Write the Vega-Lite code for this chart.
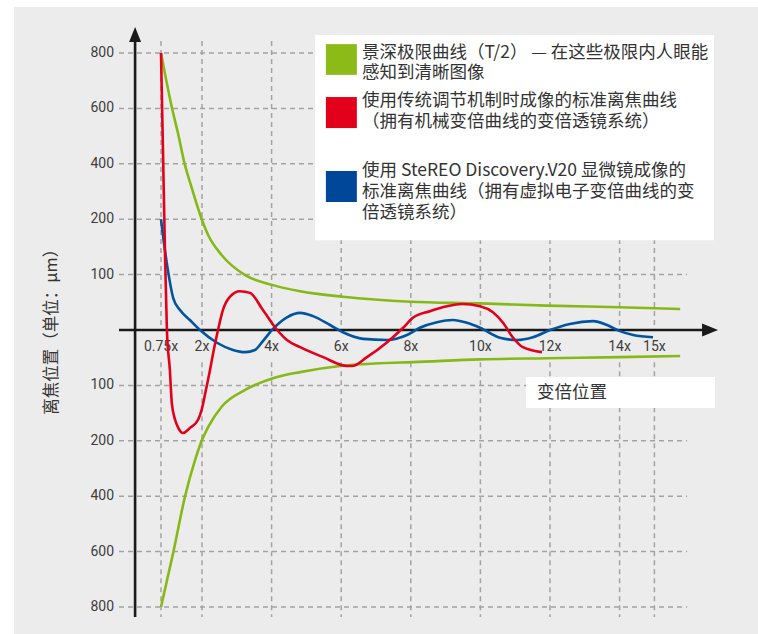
{
  "$schema": "https://vega.github.io/schema/vega-lite/v6.json",
  "width": 744,
  "height": 627,
  "autosize": {"type": "none"},
  "padding": {"left": 14, "top": 7, "right": 0, "bottom": 0},
  "background": "#ffffff",
  "config": {"view": {"fill": "#ececec", "stroke": null}, "axis": {"disable": true}},
  "datasets": {
    "yticks": [
      {"v": 800, "label": "800"}, {"v": 600, "label": "600"}, {"v": 400, "label": "400"},
      {"v": 200, "label": "200"}, {"v": 100, "label": "100"}, {"v": -100, "label": "100"},
      {"v": -200, "label": "200"}, {"v": -400, "label": "400"}, {"v": -600, "label": "600"},
      {"v": -800, "label": "800"}
    ],
    "xticks": [
      {"zoom": 0.75, "label": "0.75x"}, {"zoom": 2, "label": "2x"}, {"zoom": 4, "label": "4x"},
      {"zoom": 6, "label": "6x"}, {"zoom": 8, "label": "8x"}, {"zoom": 10, "label": "10x"},
      {"zoom": 12, "label": "12x"}, {"zoom": 14, "label": "14x"}, {"zoom": 15, "label": "15x"}
    ],
    "legend": [
      {"series": "dof", "text": "景深极限曲线（T/2） — 在这些极限内人眼能\n感知到清晰图像"},
      {"series": "conventional", "text": "使用传统调节机制时成像的标准离焦曲线\n（拥有机械变倍曲线的变倍透镜系统）"},
      {"series": "v20", "text": "使用 SteREO Discovery.V20 显微镜成像的\n标准离焦曲线（拥有虚拟电子变倍曲线的变\n倍透镜系统）"}
    ],
    "curves": [
      {"curve": "dof_upper", "zoom": 0.75, "d": 800}, {"curve": "dof_upper", "zoom": 1.08, "d": 604},
      {"curve": "dof_upper", "zoom": 1.28, "d": 504}, {"curve": "dof_upper", "zoom": 1.46, "d": 405},
      {"curve": "dof_upper", "zoom": 1.69, "d": 312}, {"curve": "dof_upper", "zoom": 1.97, "d": 207},
      {"curve": "dof_upper", "zoom": 2.18, "d": 171}, {"curve": "dof_upper", "zoom": 2.57, "d": 135},
      {"curve": "dof_upper", "zoom": 3.24, "d": 99}, {"curve": "dof_upper", "zoom": 4.04, "d": 81},
      {"curve": "dof_upper", "zoom": 4.82, "d": 70}, {"curve": "dof_upper", "zoom": 6.05, "d": 60},
      {"curve": "dof_upper", "zoom": 7.98, "d": 51}, {"curve": "dof_upper", "zoom": 9.99, "d": 48},
      {"curve": "dof_upper", "zoom": 11.91, "d": 44}, {"curve": "dof_upper", "zoom": 14.01, "d": 41},
      {"curve": "dof_upper", "zoom": 15.74, "d": 38},

      {"curve": "dof_lower", "zoom": 0.75, "d": -800}, {"curve": "dof_lower", "zoom": 1.13, "d": -600},
      {"curve": "dof_lower", "zoom": 1.48, "d": -402}, {"curve": "dof_lower", "zoom": 1.79, "d": -269},
      {"curve": "dof_lower", "zoom": 1.99, "d": -200}, {"curve": "dof_lower", "zoom": 2.18, "d": -175},
      {"curve": "dof_lower", "zoom": 2.57, "d": -138}, {"curve": "dof_lower", "zoom": 3.24, "d": -108},
      {"curve": "dof_lower", "zoom": 4.04, "d": -87}, {"curve": "dof_lower", "zoom": 4.82, "d": -76},
      {"curve": "dof_lower", "zoom": 5.97, "d": -65}, {"curve": "dof_lower", "zoom": 7.11, "d": -60},
      {"curve": "dof_lower", "zoom": 8.06, "d": -58}, {"curve": "dof_lower", "zoom": 9.99, "d": -53},
      {"curve": "dof_lower", "zoom": 11.91, "d": -51}, {"curve": "dof_lower", "zoom": 14.01, "d": -49},
      {"curve": "dof_lower", "zoom": 15.74, "d": -47},

      {"curve": "conventional", "zoom": 0.75, "d": 800}, {"curve": "conventional", "zoom": 0.81, "d": 450},
      {"curve": "conventional", "zoom": 0.87, "d": 144}, {"curve": "conventional", "zoom": 0.93, "d": 0},
      {"curve": "conventional", "zoom": 1.02, "d": -72}, {"curve": "conventional", "zoom": 1.08, "d": -132},
      {"curve": "conventional", "zoom": 1.18, "d": -162}, {"curve": "conventional", "zoom": 1.28, "d": -177},
      {"curve": "conventional", "zoom": 1.42, "d": -186}, {"curve": "conventional", "zoom": 1.63, "d": -177},
      {"curve": "conventional", "zoom": 1.88, "d": -162}, {"curve": "conventional", "zoom": 1.99, "d": -144},
      {"curve": "conventional", "zoom": 2.10, "d": -112}, {"curve": "conventional", "zoom": 2.23, "d": -72},
      {"curve": "conventional", "zoom": 2.32, "d": -42}, {"curve": "conventional", "zoom": 2.46, "d": 0},
      {"curve": "conventional", "zoom": 2.60, "d": 36}, {"curve": "conventional", "zoom": 2.80, "d": 60},
      {"curve": "conventional", "zoom": 3.09, "d": 70}, {"curve": "conventional", "zoom": 3.38, "d": 67},
      {"curve": "conventional", "zoom": 3.75, "d": 36}, {"curve": "conventional", "zoom": 4.16, "d": 0},
      {"curve": "conventional", "zoom": 4.44, "d": -18}, {"curve": "conventional", "zoom": 4.82, "d": -31},
      {"curve": "conventional", "zoom": 5.48, "d": -49}, {"curve": "conventional", "zoom": 6.17, "d": -65},
      {"curve": "conventional", "zoom": 6.31, "d": -65}, {"curve": "conventional", "zoom": 6.74, "d": -49},
      {"curve": "conventional", "zoom": 7.32, "d": -22}, {"curve": "conventional", "zoom": 7.78, "d": 4},
      {"curve": "conventional", "zoom": 8.06, "d": 22}, {"curve": "conventional", "zoom": 8.55, "d": 34},
      {"curve": "conventional", "zoom": 9.04, "d": 43}, {"curve": "conventional", "zoom": 9.47, "d": 47},
      {"curve": "conventional", "zoom": 9.99, "d": 43}, {"curve": "conventional", "zoom": 10.36, "d": 32},
      {"curve": "conventional", "zoom": 10.65, "d": 13}, {"curve": "conventional", "zoom": 10.94, "d": -14},
      {"curve": "conventional", "zoom": 11.22, "d": -31}, {"curve": "conventional", "zoom": 11.77, "d": -40},

      {"curve": "v20", "zoom": 0.75, "d": 200}, {"curve": "v20", "zoom": 0.87, "d": 144},
      {"curve": "v20", "zoom": 0.96, "d": 108}, {"curve": "v20", "zoom": 1.12, "d": 58},
      {"curve": "v20", "zoom": 1.33, "d": 36}, {"curve": "v20", "zoom": 1.63, "d": 18},
      {"curve": "v20", "zoom": 1.94, "d": 0}, {"curve": "v20", "zoom": 2.43, "d": -23},
      {"curve": "v20", "zoom": 2.89, "d": -36}, {"curve": "v20", "zoom": 3.24, "d": -40},
      {"curve": "v20", "zoom": 3.52, "d": -36}, {"curve": "v20", "zoom": 3.75, "d": -20},
      {"curve": "v20", "zoom": 4.04, "d": 2}, {"curve": "v20", "zoom": 4.44, "d": 23},
      {"curve": "v20", "zoom": 4.82, "d": 31}, {"curve": "v20", "zoom": 5.19, "d": 25},
      {"curve": "v20", "zoom": 5.68, "d": 9}, {"curve": "v20", "zoom": 6.05, "d": -4},
      {"curve": "v20", "zoom": 6.63, "d": -16}, {"curve": "v20", "zoom": 7.32, "d": -18},
      {"curve": "v20", "zoom": 7.89, "d": -9}, {"curve": "v20", "zoom": 8.26, "d": 4},
      {"curve": "v20", "zoom": 8.75, "d": 14}, {"curve": "v20", "zoom": 9.21, "d": 18},
      {"curve": "v20", "zoom": 9.61, "d": 13}, {"curve": "v20", "zoom": 9.99, "d": 4},
      {"curve": "v20", "zoom": 10.56, "d": -14}, {"curve": "v20", "zoom": 11.05, "d": -18},
      {"curve": "v20", "zoom": 11.51, "d": -13}, {"curve": "v20", "zoom": 12.0, "d": 0},
      {"curve": "v20", "zoom": 12.57, "d": 11}, {"curve": "v20", "zoom": 13.24, "d": 16},
      {"curve": "v20", "zoom": 13.64, "d": 9}, {"curve": "v20", "zoom": 14.01, "d": -2},
      {"curve": "v20", "zoom": 14.39, "d": -9}, {"curve": "v20", "zoom": 14.96, "d": -13}
    ]
  },
  "layer": [
    {
      "data": {"name": "yticks"},
      "mark": {"type": "rule", "stroke": "#a3a3a3", "strokeWidth": 1.5, "strokeDash": [5, 4]},
      "encoding": {
        "y": {"field": "v", "type": "quantitative",
              "scale": {"domain": [-800, -600, -400, -200, -100, 0, 100, 200, 400, 600, 800],
                        "range": [600, 544.6, 489.2, 433.8, 378.4, 323, 267.6, 212.2, 156.8, 101.4, 46],
                        "nice": false, "zero": false}},
        "x": {"datum": -0.53, "type": "quantitative",
              "scale": {"domain": [0.75, 2, 16], "range": [147, 188, 675.2], "nice": false, "zero": false}},
        "x2": {"datum": 15.94}
      }
    },
    {
      "data": {"name": "xticks"},
      "mark": {"type": "rule", "stroke": "#a3a3a3", "strokeWidth": 1.5, "strokeDash": [5, 4]},
      "encoding": {
        "x": {"field": "zoom", "type": "quantitative"},
        "y": {"datum": 843, "type": "quantitative"},
        "y2": {"datum": 0}
      }
    },
    {
      "data": {"name": "xticks"},
      "mark": {"type": "rule", "stroke": "#a3a3a3", "strokeWidth": 1.5, "strokeDash": [5, 4]},
      "encoding": {
        "x": {"field": "zoom", "type": "quantitative"},
        "y": {"datum": -58, "type": "quantitative"},
        "y2": {"datum": -836}
      }
    },
    {
      "data": {"values": [{"box": "legend"}]},
      "mark": {"type": "rect", "fill": "#ffffff"},
      "encoding": {
        "x": {"datum": 5.25, "type": "quantitative"}, "x2": {"datum": 16.71},
        "y": {"datum": 865, "type": "quantitative"}, "y2": {"datum": 162}
      }
    },
    {
      "data": {"values": [{"box": "xtitle"}]},
      "mark": {"type": "rect", "fill": "#ffffff"},
      "encoding": {
        "x": {"datum": 11.31, "type": "quantitative"}, "x2": {"datum": 16.74},
        "y": {"datum": -85, "type": "quantitative"}, "y2": {"datum": -141}
      }
    },
    {
      "data": {"values": [{"axis": "y"}]},
      "mark": {"type": "rule", "stroke": "#1a1a1a", "strokeWidth": 2.6},
      "encoding": {
        "x": {"datum": -0.04, "type": "quantitative"},
        "y": {"datum": 845, "type": "quantitative"}, "y2": {"datum": -836}
      }
    },
    {
      "data": {"values": [{"axis": "x"}]},
      "mark": {"type": "rule", "stroke": "#1a1a1a", "strokeWidth": 2.6},
      "encoding": {
        "y": {"datum": 0, "type": "quantitative"},
        "x": {"datum": -0.53, "type": "quantitative"}, "x2": {"datum": 16.45}
      }
    },
    {
      "data": {"values": [{"arrow": "up"}]},
      "mark": {"type": "point", "shape": "M-0.8,1L0,-1L0.8,1Z", "filled": true, "fill": "#1a1a1a", "opacity": 1, "size": 225, "strokeWidth": 0},
      "encoding": {
        "x": {"datum": -0.04, "type": "quantitative"},
        "y": {"datum": 867, "type": "quantitative"}
      }
    },
    {
      "data": {"values": [{"arrow": "right"}]},
      "mark": {"type": "point", "shape": "M-1,-0.81L1,0L-1,0.81Z", "filled": true, "fill": "#1a1a1a", "opacity": 1, "size": 256, "strokeWidth": 0},
      "encoding": {
        "x": {"datum": 16.60, "type": "quantitative"},
        "y": {"datum": 0, "type": "quantitative"}
      }
    },
    {
      "data": {"name": "yticks"},
      "mark": {"type": "text", "align": "right", "baseline": "middle", "font": "Roboto", "fontSize": 14, "fill": "#3d3d3d"},
      "encoding": {
        "y": {"field": "v", "type": "quantitative"},
        "x": {"datum": -0.68, "type": "quantitative"},
        "text": {"field": "label", "type": "nominal"}
      }
    },
    {
      "data": {"name": "xticks"},
      "mark": {"type": "text", "align": "center", "baseline": "middle", "font": "Roboto", "fontSize": 14, "fill": "#3d3d3d"},
      "encoding": {
        "x": {"field": "zoom", "type": "quantitative"},
        "y": {"datum": -31, "type": "quantitative"},
        "text": {"field": "label", "type": "nominal"}
      }
    },
    {
      "data": {"values": [{"title": "离焦位置（单位：μm）"}]},
      "mark": {"type": "text", "align": "center", "baseline": "middle", "angle": 270, "font": "Noto Sans CJK SC", "fontSize": 16.5, "fill": "#333333"},
      "encoding": {
        "x": {"datum": -2.57, "type": "quantitative"},
        "y": {"datum": 4, "type": "quantitative"},
        "text": {"field": "title", "type": "nominal"}
      }
    },
    {
      "data": {"name": "curves"},
      "transform": [{"filter": "datum.curve === 'dof_upper' || datum.curve === 'dof_lower'"}],
      "mark": {"type": "line", "stroke": "#86b817", "strokeWidth": 2.6, "interpolate": "monotone"},
      "encoding": {
        "x": {"field": "zoom", "type": "quantitative"},
        "y": {"field": "d", "type": "quantitative"},
        "detail": {"field": "curve", "type": "nominal"}
      }
    },
    {
      "data": {"name": "curves"},
      "transform": [{"filter": "datum.curve === 'v20'"}],
      "mark": {"type": "line", "stroke": "#0055a0", "strokeWidth": 2.6, "interpolate": "monotone"},
      "encoding": {
        "x": {"field": "zoom", "type": "quantitative"},
        "y": {"field": "d", "type": "quantitative"}
      }
    },
    {
      "data": {"name": "curves"},
      "transform": [{"filter": "datum.curve === 'conventional'"}],
      "mark": {"type": "line", "stroke": "#e3001b", "strokeWidth": 2.6, "interpolate": "monotone"},
      "encoding": {
        "x": {"field": "zoom", "type": "quantitative"},
        "y": {"field": "d", "type": "quantitative"}
      }
    },
    {
      "data": {"name": "legend"},
      "transform": [{"filter": "datum.series === 'dof'"}],
      "layer": [
        {
          "mark": {"type": "rect", "fill": "#8cbb18"},
          "encoding": {
            "x": {"datum": 5.56, "type": "quantitative"}, "x2": {"datum": 6.45},
            "y": {"datum": 832, "type": "quantitative"}, "y2": {"datum": 721}
          }
        },
        {
          "mark": {"type": "text", "align": "left", "baseline": "alphabetic", "lineBreak": "\n", "lineHeight": 20.5, "font": "Noto Sans CJK SC", "fontSize": 17.5, "fill": "#333333"},
          "encoding": {
            "x": {"datum": 6.6, "type": "quantitative"},
            "y": {"datum": 782, "type": "quantitative"},
            "text": {"field": "text", "type": "nominal"}
          }
        }
      ]
    },
    {
      "data": {"name": "legend"},
      "transform": [{"filter": "datum.series === 'conventional'"}],
      "layer": [
        {
          "mark": {"type": "rect", "fill": "#e3001b"},
          "encoding": {
            "x": {"datum": 5.56, "type": "quantitative"}, "x2": {"datum": 6.45},
            "y": {"datum": 641, "type": "quantitative"}, "y2": {"datum": 529}
          }
        },
        {
          "mark": {"type": "text", "align": "left", "baseline": "alphabetic", "lineBreak": "\n", "lineHeight": 21, "font": "Noto Sans CJK SC", "fontSize": 17.5, "fill": "#333333"},
          "encoding": {
            "x": {"datum": 6.6, "type": "quantitative"},
            "y": {"datum": 609, "type": "quantitative"},
            "text": {"field": "text", "type": "nominal"}
          }
        }
      ]
    },
    {
      "data": {"name": "legend"},
      "transform": [{"filter": "datum.series === 'v20'"}],
      "layer": [
        {
          "mark": {"type": "rect", "fill": "#00479a"},
          "encoding": {
            "x": {"datum": 5.56, "type": "quantitative"}, "x2": {"datum": 6.45},
            "y": {"datum": 374, "type": "quantitative"}, "y2": {"datum": 262}
          }
        },
        {
          "mark": {"type": "text", "align": "left", "baseline": "alphabetic", "lineBreak": "\n", "lineHeight": 21, "font": "Noto Sans CJK SC", "fontSize": 17.5, "fill": "#333333"},
          "encoding": {
            "x": {"datum": 6.6, "type": "quantitative"},
            "y": {"datum": 356, "type": "quantitative"},
            "text": {"field": "text", "type": "nominal"}
          }
        }
      ]
    },
    {
      "data": {"values": [{"title": "变倍位置"}]},
      "mark": {"type": "text", "align": "left", "baseline": "middle", "font": "Noto Sans CJK SC", "fontSize": 17.5, "fill": "#333333"},
      "encoding": {
        "x": {"datum": 11.63, "type": "quantitative"},
        "y": {"datum": -114, "type": "quantitative"},
        "text": {"field": "title", "type": "nominal"}
      }
    }
  ]
}
